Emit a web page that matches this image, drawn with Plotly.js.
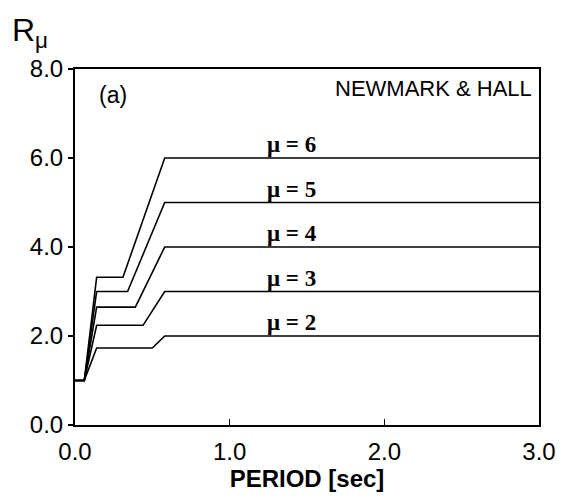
<!DOCTYPE html>
<html>
<head>
<meta charset="utf-8">
<script src="https://cdn.plot.ly/plotly-3.0.1.min.js"></script>
<style>html,body{margin:0;padding:0;background:#fff;}#chart{width:561px;height:501px;}</style>
</head>
<body>
<div id="chart"></div>
<script>
// Ductility values
var mus = [2, 3, 4, 5, 6];
// Period points (sec) for each ductility curve
var period_mu2 = [0, 0.06, 0.14, 0.50, 0.58, 3.0];
var period_mu3 = [0, 0.06, 0.14, 0.44, 0.58, 3.0];
var period_mu4 = [0, 0.06, 0.14, 0.39, 0.58, 3.0];
var period_mu5 = [0, 0.06, 0.14, 0.34, 0.58, 3.0];
var period_mu6 = [0, 0.06, 0.14, 0.31, 0.58, 3.0];
// Strength reduction factor R_mu for each curve
var r_mu2 = [1, 1, 1.73, 1.73, 2, 2];
var r_mu3 = [1, 1, 2.24, 2.24, 3, 3];
var r_mu4 = [1, 1, 2.65, 2.65, 4, 4];
var r_mu5 = [1, 1, 3.00, 3.00, 5, 5];
var r_mu6 = [1, 1, 3.32, 3.32, 6, 6];
// Curve label positions
var labelPeriod = 1.40;
var labelR = [2.30, 3.30, 4.30, 5.30, 6.30];
var xTicks = [0, 1, 2, 3];
var yTicks = [0, 2, 4, 6, 8];

var periods = [period_mu2, period_mu3, period_mu4, period_mu5, period_mu6];
var rs = [r_mu2, r_mu3, r_mu4, r_mu5, r_mu6];

var traces = mus.map(function (m, i) {
  return {
    x: periods[i], y: rs[i], type: 'scatter', mode: 'lines',
    line: {color: '#000', width: 1.6}, name: 'μ = ' + m, showlegend: false,
    hoverinfo: 'skip'
  };
});

var annotations = mus.map(function (m, i) {
  return {
    x: labelPeriod, y: labelR[i], xref: 'x', yref: 'y',
    text: '<b>μ = ' + m + '</b>', showarrow: false,
    font: {family: 'Liberation Serif, Times New Roman, serif', size: 23, color: '#000'},
    xanchor: 'center', yanchor: 'middle'
  };
});
annotations.push({
  x: 0.99, y: 0.985, xref: 'paper', yref: 'paper', text: 'NEWMARK &amp; HALL',
  showarrow: false, xanchor: 'right', yanchor: 'top',
  font: {family: 'Liberation Sans, Arial, sans-serif', size: 22, color: '#000'}
});
annotations.push({
  x: 0.048, y: 0.968, xref: 'paper', yref: 'paper', text: '(a)',
  showarrow: false, xanchor: 'left', yanchor: 'top',
  font: {family: 'Liberation Sans, Arial, sans-serif', size: 23, color: '#000'}
});
var W = 561, H = 501, ml = 75, mr = 22, mt = 69, mb = 76;
annotations.push({
  x: (10 - ml) / (W - ml - mr), y: (H - mb - 10) / (H - mt - mb),
  xref: 'paper', yref: 'paper', text: 'R<sub>μ</sub>',
  showarrow: false, xanchor: 'left', yanchor: 'top',
  font: {family: 'Liberation Sans, Arial, sans-serif', size: 32, color: '#000'}
});

var layout = {
  width: W, height: H,
  margin: {l: ml, r: mr, t: mt, b: mb, pad: 0},
  paper_bgcolor: '#fff', plot_bgcolor: '#fff',
  font: {family: 'Liberation Sans, Arial, sans-serif', color: '#000'},
  xaxis: {
    range: [0, 3], tickvals: xTicks, tickformat: '.1f',
    ticks: 'inside', ticklen: 6, tickwidth: 1.5, tickcolor: '#000',
    showline: true, linecolor: '#000', linewidth: 2, mirror: true,
    showgrid: false, zeroline: false, ticklabelstandoff: 4,
    tickfont: {size: 24, color: '#000'},
    title: {text: '<b>PERIOD [sec]</b>', font: {size: 24, color: '#000'}, standoff: 4}
  },
  yaxis: {
    range: [0, 8], tickvals: yTicks, tickformat: '.1f',
    ticks: 'outside', ticklen: 5, tickwidth: 1.5, tickcolor: '#000',
    showline: true, linecolor: '#000', linewidth: 2, mirror: true,
    showgrid: false, zeroline: false,
    tickfont: {size: 24, color: '#000'}
  },
  annotations: annotations,
  showlegend: false
};

Plotly.newPlot('chart', traces, layout, {staticPlot: true, displayModeBar: false});
</script>
</body>
</html>
